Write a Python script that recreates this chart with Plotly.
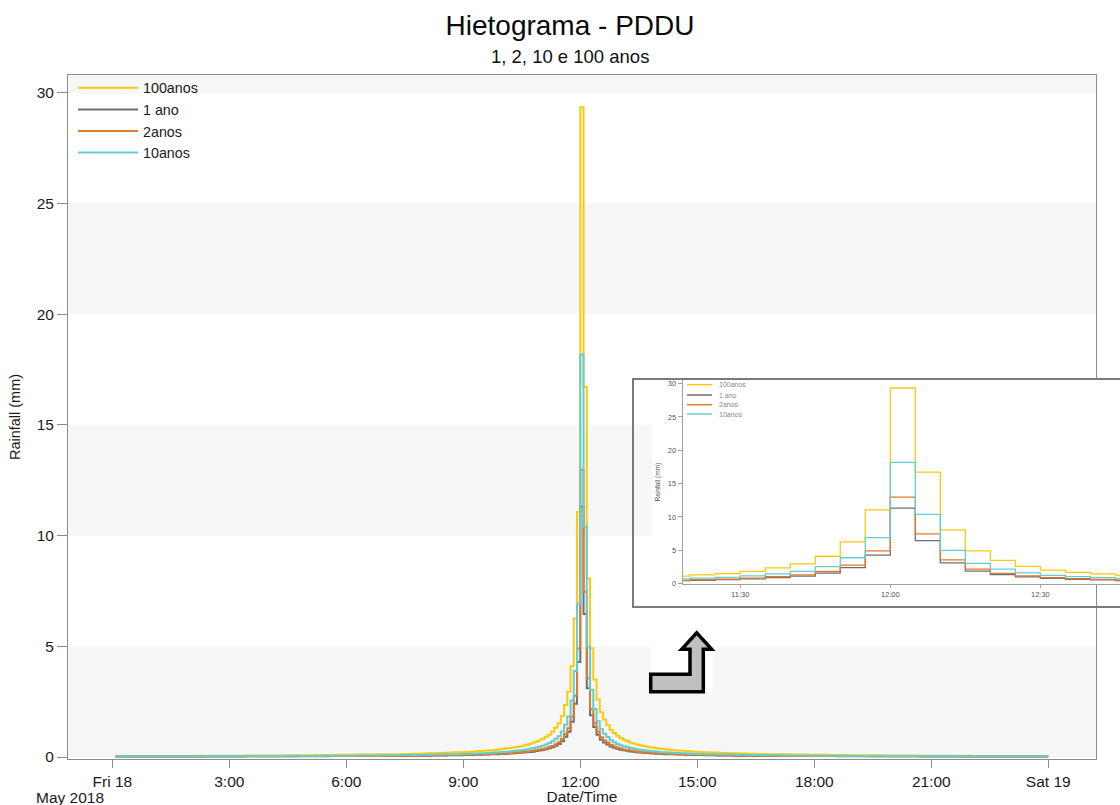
import pandas as pd
import plotly.graph_objects as go

# ---------------- data (5-minute rainfall blocks, mm) ----------------
series_names = ["100anos", "1 ano", "2anos", "10anos"]
series_colors = ["#FFC90E", "#6E6E6E", "#E07A2E", "#62CFCF"]

rain_100anos = [
    0.04, 0.04, 0.04, 0.04, 0.05, 0.05, 0.05, 0.05, 0.05, 0.05,
    0.05, 0.05, 0.05, 0.05, 0.05, 0.05, 0.05, 0.05, 0.05, 0.05,
    0.05, 0.05, 0.05, 0.05, 0.05, 0.05, 0.06, 0.06, 0.06, 0.06,
    0.06, 0.06, 0.06, 0.06, 0.06, 0.06, 0.06, 0.06, 0.06, 0.06,
    0.06, 0.07, 0.07, 0.07, 0.07, 0.07, 0.07, 0.07, 0.07, 0.07,
    0.07, 0.07, 0.07, 0.08, 0.08, 0.08, 0.08, 0.08, 0.08, 0.08,
    0.08, 0.08, 0.09, 0.09, 0.09, 0.09, 0.09, 0.09, 0.09, 0.10,
    0.10, 0.10, 0.10, 0.10, 0.10, 0.11, 0.11, 0.11, 0.11, 0.11,
    0.11, 0.12, 0.12, 0.12, 0.12, 0.13, 0.13, 0.13, 0.13, 0.14,
    0.14, 0.14, 0.15, 0.15, 0.15, 0.16, 0.16, 0.17, 0.17, 0.17,
    0.18, 0.18, 0.19, 0.19, 0.20, 0.21, 0.21, 0.22, 0.23, 0.23,
    0.24, 0.25, 0.26, 0.27, 0.28, 0.29, 0.31, 0.32, 0.33, 0.35,
    0.37, 0.39, 0.41, 0.43, 0.45, 0.48, 0.51, 0.55, 0.59, 0.64,
    0.69, 0.75, 0.82, 0.91, 1.01, 1.14, 1.32, 1.52, 1.85, 2.35,
    2.95, 4.11, 6.26, 11.07,
    29.35,
    16.73, 8.06, 4.91, 3.50, 2.60, 2.02, 1.70, 1.45, 1.22, 1.08,
    0.96, 0.86, 0.78, 0.72, 0.66, 0.61, 0.57, 0.53, 0.50, 0.47,
    0.44, 0.42, 0.40, 0.38, 0.36, 0.34, 0.33, 0.31, 0.30, 0.29,
    0.28, 0.27, 0.26, 0.25, 0.24, 0.23, 0.22, 0.22, 0.21, 0.20,
    0.20, 0.19, 0.19, 0.18, 0.18, 0.17, 0.17, 0.16, 0.16, 0.16,
    0.15, 0.15, 0.15, 0.14, 0.14, 0.14, 0.13, 0.13, 0.13, 0.13,
    0.12, 0.12, 0.12, 0.12, 0.11, 0.11, 0.11, 0.11, 0.11, 0.10,
    0.10, 0.10, 0.10, 0.10, 0.10, 0.09, 0.09, 0.09, 0.09, 0.09,
    0.09, 0.09, 0.08, 0.08, 0.08, 0.08, 0.08, 0.08, 0.08, 0.08,
    0.08, 0.08, 0.07, 0.07, 0.07, 0.07, 0.07, 0.07, 0.07, 0.07,
    0.07, 0.07, 0.07, 0.06, 0.06, 0.06, 0.06, 0.06, 0.06, 0.06,
    0.06, 0.06, 0.06, 0.06, 0.06, 0.06, 0.06, 0.06, 0.06, 0.05,
    0.05, 0.05, 0.05, 0.05, 0.05, 0.05, 0.05, 0.05, 0.05, 0.05,
    0.05, 0.05, 0.05, 0.05, 0.05, 0.05, 0.05, 0.05, 0.05, 0.05,
    0.04, 0.04, 0.04,
]

rain_1ano = [
    0.02, 0.02, 0.02, 0.02, 0.02, 0.02, 0.02, 0.02, 0.02, 0.02,
    0.02, 0.02, 0.02, 0.02, 0.02, 0.02, 0.02, 0.02, 0.02, 0.02,
    0.02, 0.02, 0.02, 0.02, 0.02, 0.02, 0.02, 0.02, 0.02, 0.02,
    0.02, 0.02, 0.02, 0.02, 0.02, 0.02, 0.02, 0.02, 0.02, 0.02,
    0.02, 0.03, 0.03, 0.03, 0.03, 0.03, 0.03, 0.03, 0.03, 0.03,
    0.03, 0.03, 0.03, 0.03, 0.03, 0.03, 0.03, 0.03, 0.03, 0.03,
    0.03, 0.03, 0.03, 0.03, 0.03, 0.03, 0.03, 0.04, 0.04, 0.04,
    0.04, 0.04, 0.04, 0.04, 0.04, 0.04, 0.04, 0.04, 0.04, 0.04,
    0.04, 0.05, 0.05, 0.05, 0.05, 0.05, 0.05, 0.05, 0.05, 0.05,
    0.05, 0.06, 0.06, 0.06, 0.06, 0.06, 0.06, 0.06, 0.07, 0.07,
    0.07, 0.07, 0.07, 0.08, 0.08, 0.08, 0.08, 0.08, 0.09, 0.09,
    0.09, 0.10, 0.10, 0.10, 0.11, 0.11, 0.12, 0.12, 0.13, 0.14,
    0.14, 0.15, 0.16, 0.17, 0.18, 0.19, 0.20, 0.21, 0.23, 0.24,
    0.27, 0.29, 0.32, 0.35, 0.39, 0.44, 0.51, 0.59, 0.71, 0.91,
    1.14, 1.59, 2.41, 4.29,
    11.32,
    6.46, 3.11, 1.89, 1.35, 1.00, 0.78, 0.66, 0.56, 0.47, 0.42,
    0.37, 0.33, 0.30, 0.28, 0.25, 0.24, 0.22, 0.20, 0.19, 0.18,
    0.17, 0.16, 0.15, 0.15, 0.14, 0.13, 0.13, 0.12, 0.12, 0.11,
    0.11, 0.10, 0.10, 0.10, 0.09, 0.09, 0.09, 0.08, 0.08, 0.08,
    0.08, 0.07, 0.07, 0.07, 0.07, 0.07, 0.06, 0.06, 0.06, 0.06,
    0.06, 0.06, 0.06, 0.05, 0.05, 0.05, 0.05, 0.05, 0.05, 0.05,
    0.05, 0.05, 0.05, 0.04, 0.04, 0.04, 0.04, 0.04, 0.04, 0.04,
    0.04, 0.04, 0.04, 0.04, 0.04, 0.04, 0.04, 0.04, 0.03, 0.03,
    0.03, 0.03, 0.03, 0.03, 0.03, 0.03, 0.03, 0.03, 0.03, 0.03,
    0.03, 0.03, 0.03, 0.03, 0.03, 0.03, 0.03, 0.03, 0.03, 0.03,
    0.03, 0.03, 0.03, 0.02, 0.02, 0.02, 0.02, 0.02, 0.02, 0.02,
    0.02, 0.02, 0.02, 0.02, 0.02, 0.02, 0.02, 0.02, 0.02, 0.02,
    0.02, 0.02, 0.02, 0.02, 0.02, 0.02, 0.02, 0.02, 0.02, 0.02,
    0.02, 0.02, 0.02, 0.02, 0.02, 0.02, 0.02, 0.02, 0.02, 0.02,
    0.02, 0.02, 0.02,
]

rain_2anos = [
    0.02, 0.02, 0.02, 0.02, 0.02, 0.02, 0.02, 0.02, 0.02, 0.02,
    0.02, 0.02, 0.02, 0.02, 0.02, 0.02, 0.02, 0.02, 0.02, 0.02,
    0.02, 0.02, 0.02, 0.02, 0.02, 0.02, 0.02, 0.02, 0.02, 0.03,
    0.03, 0.03, 0.03, 0.03, 0.03, 0.03, 0.03, 0.03, 0.03, 0.03,
    0.03, 0.03, 0.03, 0.03, 0.03, 0.03, 0.03, 0.03, 0.03, 0.03,
    0.03, 0.03, 0.03, 0.03, 0.03, 0.03, 0.03, 0.04, 0.04, 0.04,
    0.04, 0.04, 0.04, 0.04, 0.04, 0.04, 0.04, 0.04, 0.04, 0.04,
    0.04, 0.04, 0.04, 0.04, 0.05, 0.05, 0.05, 0.05, 0.05, 0.05,
    0.05, 0.05, 0.05, 0.05, 0.05, 0.06, 0.06, 0.06, 0.06, 0.06,
    0.06, 0.06, 0.06, 0.07, 0.07, 0.07, 0.07, 0.07, 0.08, 0.08,
    0.08, 0.08, 0.08, 0.09, 0.09, 0.09, 0.09, 0.10, 0.10, 0.10,
    0.11, 0.11, 0.12, 0.12, 0.12, 0.13, 0.14, 0.14, 0.15, 0.15,
    0.16, 0.17, 0.18, 0.19, 0.20, 0.21, 0.23, 0.24, 0.26, 0.28,
    0.30, 0.33, 0.36, 0.40, 0.45, 0.50, 0.58, 0.67, 0.82, 1.04,
    1.30, 1.82, 2.77, 4.90,
    12.97,
    7.46, 3.56, 2.17, 1.55, 1.15, 0.89, 0.75, 0.64, 0.54, 0.48,
    0.42, 0.38, 0.34, 0.32, 0.29, 0.27, 0.25, 0.23, 0.22, 0.21,
    0.19, 0.18, 0.17, 0.17, 0.16, 0.15, 0.14, 0.14, 0.13, 0.13,
    0.12, 0.12, 0.11, 0.11, 0.11, 0.10, 0.10, 0.10, 0.09, 0.09,
    0.09, 0.08, 0.08, 0.08, 0.08, 0.08, 0.07, 0.07, 0.07, 0.07,
    0.07, 0.07, 0.06, 0.06, 0.06, 0.06, 0.06, 0.06, 0.06, 0.06,
    0.05, 0.05, 0.05, 0.05, 0.05, 0.05, 0.05, 0.05, 0.05, 0.05,
    0.05, 0.04, 0.04, 0.04, 0.04, 0.04, 0.04, 0.04, 0.04, 0.04,
    0.04, 0.04, 0.04, 0.04, 0.04, 0.04, 0.04, 0.03, 0.03, 0.03,
    0.03, 0.03, 0.03, 0.03, 0.03, 0.03, 0.03, 0.03, 0.03, 0.03,
    0.03, 0.03, 0.03, 0.03, 0.03, 0.03, 0.03, 0.03, 0.03, 0.03,
    0.03, 0.03, 0.03, 0.03, 0.03, 0.03, 0.02, 0.02, 0.02, 0.02,
    0.02, 0.02, 0.02, 0.02, 0.02, 0.02, 0.02, 0.02, 0.02, 0.02,
    0.02, 0.02, 0.02, 0.02, 0.02, 0.02, 0.02, 0.02, 0.02, 0.02,
    0.02, 0.02, 0.02,
]

rain_10anos = [
    0.03, 0.03, 0.03, 0.03, 0.03, 0.03, 0.03, 0.03, 0.03, 0.03,
    0.03, 0.03, 0.03, 0.03, 0.03, 0.03, 0.03, 0.03, 0.03, 0.03,
    0.03, 0.03, 0.03, 0.03, 0.03, 0.03, 0.03, 0.03, 0.03, 0.04,
    0.04, 0.04, 0.04, 0.04, 0.04, 0.04, 0.04, 0.04, 0.04, 0.04,
    0.04, 0.04, 0.04, 0.04, 0.04, 0.04, 0.04, 0.04, 0.04, 0.04,
    0.04, 0.05, 0.05, 0.05, 0.05, 0.05, 0.05, 0.05, 0.05, 0.05,
    0.05, 0.05, 0.05, 0.05, 0.05, 0.06, 0.06, 0.06, 0.06, 0.06,
    0.06, 0.06, 0.06, 0.06, 0.06, 0.07, 0.07, 0.07, 0.07, 0.07,
    0.07, 0.07, 0.07, 0.08, 0.08, 0.08, 0.08, 0.08, 0.08, 0.09,
    0.09, 0.09, 0.09, 0.09, 0.10, 0.10, 0.10, 0.10, 0.11, 0.11,
    0.11, 0.11, 0.12, 0.12, 0.12, 0.13, 0.13, 0.14, 0.14, 0.15,
    0.15, 0.16, 0.16, 0.17, 0.17, 0.18, 0.19, 0.20, 0.21, 0.22,
    0.23, 0.24, 0.25, 0.27, 0.28, 0.30, 0.32, 0.34, 0.37, 0.40,
    0.43, 0.46, 0.51, 0.56, 0.63, 0.71, 0.82, 0.94, 1.15, 1.46,
    1.83, 2.55, 3.88, 6.90,
    18.18,
    10.40, 4.99, 3.04, 2.17, 1.61, 1.25, 1.05, 0.90, 0.76, 0.67,
    0.59, 0.53, 0.48, 0.45, 0.41, 0.38, 0.35, 0.33, 0.31, 0.29,
    0.27, 0.26, 0.25, 0.23, 0.22, 0.21, 0.20, 0.19, 0.19, 0.18,
    0.17, 0.17, 0.16, 0.15, 0.15, 0.14, 0.14, 0.13, 0.13, 0.13,
    0.12, 0.12, 0.12, 0.11, 0.11, 0.11, 0.10, 0.10, 0.10, 0.10,
    0.09, 0.09, 0.09, 0.09, 0.09, 0.08, 0.08, 0.08, 0.08, 0.08,
    0.08, 0.07, 0.07, 0.07, 0.07, 0.07, 0.07, 0.07, 0.07, 0.06,
    0.06, 0.06, 0.06, 0.06, 0.06, 0.06, 0.06, 0.06, 0.06, 0.05,
    0.05, 0.05, 0.05, 0.05, 0.05, 0.05, 0.05, 0.05, 0.05, 0.05,
    0.05, 0.05, 0.05, 0.05, 0.04, 0.04, 0.04, 0.04, 0.04, 0.04,
    0.04, 0.04, 0.04, 0.04, 0.04, 0.04, 0.04, 0.04, 0.04, 0.04,
    0.04, 0.04, 0.04, 0.04, 0.04, 0.04, 0.03, 0.03, 0.03, 0.03,
    0.03, 0.03, 0.03, 0.03, 0.03, 0.03, 0.03, 0.03, 0.03, 0.03,
    0.03, 0.03, 0.03, 0.03, 0.03, 0.03, 0.03, 0.03, 0.03, 0.03,
    0.03, 0.03, 0.03,
]

series_values = [rain_100anos, rain_1ano, rain_2anos, rain_10anos]

# block end times (value = rainfall in the preceding 5 minutes)
times = pd.date_range("2018-05-18 00:05", periods=len(rain_100anos), freq="5min")

x_tick_vals = pd.date_range("2018-05-18 00:00", periods=9, freq="3h")
x_tick_text = ["Fri 18", "3:00", "6:00", "9:00", "12:00", "15:00", "18:00", "21:00", "Sat 19"]
y_tick_vals = [0, 5, 10, 15, 20, 25, 30]
inset_tick_vals = pd.to_datetime(["2018-05-18 11:30", "2018-05-18 12:00", "2018-05-18 12:30"])
inset_tick_text = ["11:30", "12:00", "12:30"]

# ---------------- layout helpers (pixel -> paper) ----------------
W, H = 1120, 805
ML, MR, MT, MB = 68, 0, 75, 46
PW = W - ML - MR
PH = H - MT - MB


def px(x):
    return (x - ML) / PW


def py(y):
    return (H - MB - y) / PH


MAIN_RIGHT = 1096
TXT = "Liberation Sans, Arial, sans-serif"
FS = 15.5
INK = "#1A1A1A"

fig = go.Figure()

for name, color, vals in zip(series_names, series_colors, series_values):
    fig.add_trace(go.Scatter(
        x=times, y=vals, name=name, mode="lines", line_shape="vh",
        line=dict(color=color, width=2), xaxis="x", yaxis="y",
    ))

for name, color, vals in zip(series_names, series_colors, series_values):
    fig.add_trace(go.Scatter(
        x=times, y=vals, name=name, mode="lines", line_shape="vh",
        line=dict(color=color, width=1.3), xaxis="x2", yaxis="y2",
        showlegend=False, hoverinfo="skip",
    ))

shapes = []
band = "#F7F7F7"
for y0, y1 in [(0, 5), (10, 15), (20, 25), (30, 31)]:
    shapes.append(dict(type="rect", xref="x domain", yref="y", x0=0, x1=1, y0=y0, y1=y1,
                       fillcolor=band, line=dict(width=0), layer="below"))
main_dom_w = MAIN_RIGHT - ML
# white area of inset picture and of arrow picture (over the main bands)
shapes.append(dict(type="rect", xref="x domain", yref="y domain",
                   x0=(652 - ML) / main_dom_w, x1=1.01, y0=py(607), y1=py(378),
                   fillcolor="white", line=dict(width=0), layer="below"))
shapes.append(dict(type="rect", xref="x domain", yref="y domain",
                   x0=(651 - ML) / main_dom_w, x1=(713 - ML) / main_dom_w, y0=py(693), y1=py(646),
                   fillcolor="white", line=dict(width=0), layer="below"))
# inset bands
for y0, y1 in [(0, 5), (10, 15), (20, 25)]:
    shapes.append(dict(type="rect", xref="x2 domain", yref="y2", x0=0, x1=1, y0=y0, y1=y1,
                       fillcolor=band, line=dict(width=0), layer="below"))
# inset frame
shapes.append(dict(type="rect", xref="paper", yref="paper", x0=px(633), x1=px(1123),
                   y0=py(607), y1=py(379), line=dict(color="#7A7A7A", width=2),
                   fillcolor="rgba(0,0,0,0)", layer="above"))
# arrow
arrow_pts = [(650.7, 691.7), (650.7, 674.3), (690, 674.3), (690, 649.3), (681.7, 649.3),
             (696.7, 632.8), (711.7, 649.3), (703.3, 649.3), (703.3, 691.7)]
path = "M " + " L ".join(f"{px(a):.5f},{py(b):.5f}" for a, b in arrow_pts) + " Z"
shapes.append(dict(type="path", xref="paper", yref="paper", path=path,
                   fillcolor="#C0C0C0", line=dict(color="black", width=3.5), layer="above"))

annotations = [
    dict(text="1, 2, 10 e 100 anos", xref="paper", yref="paper", x=px(570), y=py(57),
         xanchor="center", yanchor="middle", showarrow=False,
         font=dict(family=TXT, size=18.5, color="#111")),
    dict(text="May 2018", xref="paper", yref="paper", x=px(34), y=py(797),
         xanchor="left", yanchor="middle", showarrow=False,
         font=dict(family=TXT, size=FS, color=INK)),
]

# inset legend (small copy)
inset_leg_y = [384.7, 395, 404.7, 414]
for name, color, yy in zip(series_names, series_colors, inset_leg_y):
    shapes.append(dict(type="line", xref="paper", yref="paper", x0=px(687), x1=px(712),
                       y0=py(yy), y1=py(yy), line=dict(color=color, width=1.5), layer="above"))
    annotations.append(dict(text=name, xref="paper", yref="paper", x=px(717), y=py(yy),
                            xanchor="left", yanchor="middle", showarrow=False,
                            font=dict(family=TXT, size=7, color="#8A8A8A")))

axis_line = "#8C8C8C"
fig.update_layout(
    width=W, height=H,
    margin=dict(l=ML, r=MR, t=MT, b=MB),
    paper_bgcolor="white", plot_bgcolor="white",
    font=dict(family=TXT, size=FS, color=INK),
    title=dict(text="Hietograma - PDDU", x=570 / W, xref="container", xanchor="center",
               y=1 - 25 / H, yref="container", yanchor="middle",
               font=dict(family=TXT, size=28, color="#0A0A0A")),
    showlegend=True,
    legend=dict(x=px(73), y=1 + 3 / PH, xanchor="left", yanchor="top", bgcolor="rgba(0,0,0,0)",
                font=dict(family=TXT, size=14.3, color=INK), itemwidth=60,
                tracegroupgap=0),
    xaxis=dict(domain=[0, (MAIN_RIGHT - ML) / PW], type="date",
               range=["2018-05-17 22:51:50", "2018-05-19 01:13:25"],
               tickmode="array", tickvals=x_tick_vals, ticktext=x_tick_text,
               showline=True, mirror=True, linecolor=axis_line, linewidth=1,
               ticks="outside", ticklen=8, tickcolor=axis_line,
               showgrid=False, zeroline=False,
               tickfont=dict(size=FS, color=INK),
               title=dict(text="Date/Time", standoff=2, font=dict(size=FS, color=INK))),
    yaxis=dict(domain=[0, 1], range=[-0.09, 30.81], tickmode="array", tickvals=y_tick_vals,
               showline=True, mirror=True, linecolor=axis_line, linewidth=1,
               ticks="outside", ticklen=10, tickcolor=axis_line,
               showgrid=False, zeroline=False,
               tickfont=dict(size=FS, color=INK),
               title=dict(text="Rainfall (mm)", standoff=12, font=dict(size=14.5, color=INK))),
    xaxis2=dict(domain=[px(682.7), 1.0], anchor="y2", type="date",
                range=["2018-05-18 11:18:30", "2018-05-18 12:45:55"],
                tickmode="array", tickvals=inset_tick_vals, ticktext=inset_tick_text,
                showline=True, linecolor="#A0A0A0", linewidth=1,
                ticks="outside", ticklen=3, tickcolor="#A0A0A0",
                showgrid=False, zeroline=False,
                tickfont=dict(size=7.5, color="#555")),
    yaxis2=dict(domain=[py(584.3), py(380)], anchor="x2", range=[-0.1, 30.55],
                tickmode="array", tickvals=y_tick_vals,
                showline=True, linecolor="#A0A0A0", linewidth=1,
                ticks="outside", ticklen=4, tickcolor="#A0A0A0",
                showgrid=False, zeroline=False,
                tickfont=dict(size=7.5, color="#555"),
                title=dict(text="Rainfall (mm)", standoff=6, font=dict(size=6.5, color="#555"))),
    shapes=shapes,
    annotations=annotations,
)

fig.write_html("out.html")
